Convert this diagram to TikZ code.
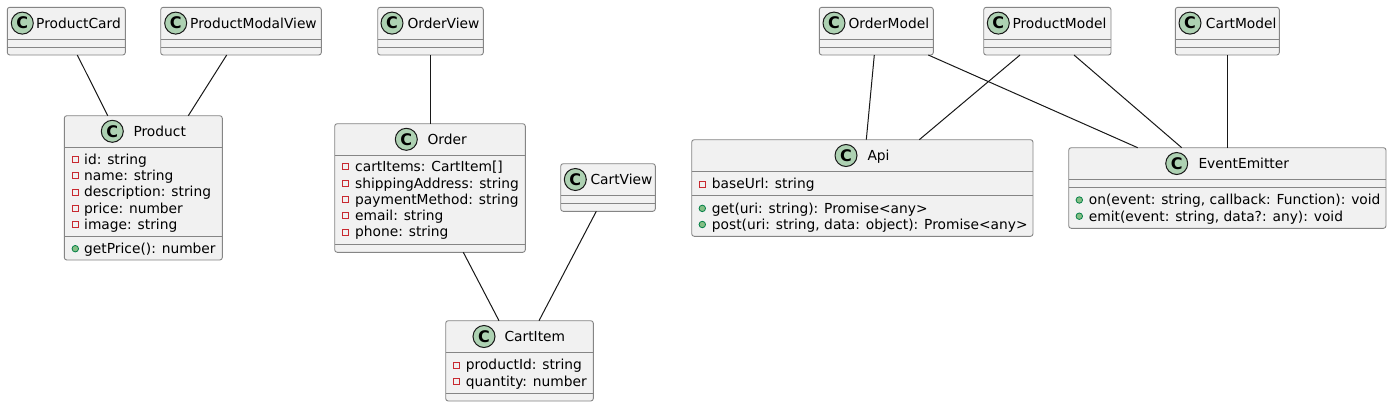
\documentclass[tikz,border=0pt]{standalone}
\usepackage{fontspec}
\setmainfont{DejaVu Sans}
\newfontfamily\iconfamily{DejaVu Sans}
\usetikzlibrary{calc}
\definecolor{cBorder}{HTML}{181818}
\definecolor{cEdge}{HTML}{858585}
\definecolor{cFill}{HTML}{F1F1F1}
\definecolor{cIcon}{HTML}{ADD1B2}
\definecolor{cPriv}{HTML}{C82930}
\definecolor{cPubF}{HTML}{84BE84}
\definecolor{cPubD}{HTML}{038048}
\newcommand\memfont{\fontsize{13.8pt}{16pt}\selectfont}
\newcommand\iconfont{\iconfamily\bfseries\fontsize{16pt}{16pt}\selectfont}
\newcommand\twoseps[3]{%
  \draw[sepl] ($(#1.north west)+(0,#2)$) -- ($(#1.north east)+(0,#2)$);
  \draw[sepl] ($(#1.north west)+(0,#3)$) -- ($(#1.north east)+(0,#3)$);}
\tikzset{
  cls/.style={draw=cEdge, line width=0.9pt, fill=cFill, rounded corners=2.5pt,
    inner sep=0pt, outer sep=0pt, anchor=north west, rectangle},
  sepl/.style={draw=cEdge, line width=0.9pt},
  cicon/.style={circle, draw=cBorder, line width=1pt, fill=cIcon, minimum size=22pt,
    inner sep=0pt, font=\iconfont},
  cname/.style={anchor=base west, inner sep=0pt, font=\memfont},
  mem/.style={anchor=base west, inner sep=0pt, font=\memfont},
  privm/.style={rectangle, draw=cPriv, line width=1pt, minimum size=6pt, inner sep=0pt},
  pubm/.style={circle, draw=cPubD, fill=cPubF, line width=0.8pt, minimum size=6.5pt, inner sep=0pt},
  conn/.style={draw=cBorder, line width=1pt},
}
\begin{document}
\begin{tikzpicture}[x=1pt, y=-1pt]
\useasboundingbox[fill=white] (0,0) rectangle (1392,407);

% ---------- boxes ----------
\node[cls, minimum width=118pt,   minimum height=47.7pt]  (pc)   at (7.3,7.3) {};
\node[cls, minimum width=160.6pt, minimum height=47.7pt]  (pmv)  at (160.7,7.3) {};
\node[cls, minimum width=158pt,   minimum height=144.3pt] (prod) at (64.3,115.7) {};
\node[cls, minimum width=105.6pt, minimum height=47.7pt]  (ov)   at (377.7,7.3) {};
\node[cls, minimum width=190.6pt, minimum height=128.6pt] (ord)  at (334.7,123.7) {};
\node[cls, minimum width=94.6pt,  minimum height=47.6pt]  (cv)   at (560.7,163.7) {};
\node[cls, minimum width=147.6pt, minimum height=80.3pt]  (ci)   at (445.7,320.7) {};
\node[cls, minimum width=114pt,   minimum height=47.7pt]  (om)   at (819.3,7.3) {};
\node[cls, minimum width=127.3pt, minimum height=47.7pt]  (pm)   at (983.7,7.3) {};
\node[cls, minimum width=104pt,   minimum height=47.7pt]  (cm)   at (1175.3,7.3) {};
\node[cls, minimum width=341.3pt, minimum height=96.6pt]  (api)  at (691.7,139.7) {};
\node[cls, minimum width=317.3pt, minimum height=80.6pt]  (ee)   at (1068.7,147.7) {};

% ---------- separators ----------
\twoseps{pc}{32}{40}
\twoseps{pmv}{32}{40}
\twoseps{prod}{31.3}{120.3}
\twoseps{ov}{32}{40}
\twoseps{ord}{31.3}{120.6}
\twoseps{cv}{31.8}{39.8}
\twoseps{ci}{31.6}{72.6}
\twoseps{om}{32}{40}
\twoseps{pm}{32}{40}
\twoseps{cm}{32}{40}
\twoseps{api}{32}{56}
\twoseps{ee}{31.6}{39.6}

% ---------- headers ----------
\node[cicon] (pcI)   at (22.3,23.1) {C};   \node[cname] (pcN)   at (36,28.3) {ProductCard};
\node[cicon] (pmvI)  at (175.7,23.1) {C};  \node[cname] (pmvN)  at (190,28.3) {ProductModalView};
\node[cicon] (prodI) at (112.3,131.3) {C}; \node[cname] (prodN) at (133.3,136.7) {Product};
\node[cicon] (ovI)   at (392,23.1) {C};    \node[cname] (ovN)   at (407.3,28.3) {OrderView};
\node[cicon] (ordI)  at (406.3,139.3) {C}; \node[cname] (ordN)  at (427.3,144.7) {Order};
\node[cicon] (cvI)   at (575.3,179.5) {C}; \node[cname] (cvN)   at (590.3,184.7) {CartView};
\node[cicon] (ciI)   at (484,336.5) {C};   \node[cname] (ciN)   at (504.3,341.7) {CartItem};
\node[cicon] (omI)   at (834,23.1) {C};    \node[cname] (omN)   at (848.3,28.3) {OrderModel};
\node[cicon] (pmI)   at (998.3,23.1) {C};  \node[cname] (pmN)   at (1012.3,28.3) {ProductModel};
\node[cicon] (cmI)   at (1190,23.1) {C};   \node[cname] (cmN)   at (1205.7,28.3) {CartModel};
\node[cicon] (apiI)  at (846,155.5) {C};   \node[cname] (apiN)  at (867.3,160.7) {Api};
\node[cicon] (eeI)   at (1176.7,163.5) {C};\node[cname] (eeN)   at (1198.3,168.7) {EventEmitter};

% ---------- Product members ----------
\node[privm] (prodM1) at (75.3,159.5) {}; \node[mem] (prodT1) at (84,164.3) {id: string};
\node[privm] (prodM2) at (75.3,175.8) {}; \node[mem] (prodT2) at (84,180.6) {name: string};
\node[privm] (prodM3) at (75.3,192.1) {}; \node[mem] (prodT3) at (84,196.9) {description: string};
\node[privm] (prodM4) at (75.3,208.4) {}; \node[mem] (prodT4) at (84,213.2) {price: number};
\node[privm] (prodM5) at (75.3,224.7) {}; \node[mem] (prodT5) at (84,229.5) {image: string};
\node[pubm]  (prodM6) at (75.3,248.7) {}; \node[mem] (prodT6) at (84,253.5) {getPrice(): number};

% ---------- Order members ----------
\node[privm] (ordM1) at (345.3,166.9) {}; \node[mem] (ordT1) at (355,171.7) {cartItems: CartItem[]};
\node[privm] (ordM2) at (345.3,183.2) {}; \node[mem] (ordT2) at (355,188) {shippingAddress: string};
\node[privm] (ordM3) at (345.3,199.5) {}; \node[mem] (ordT3) at (355,204.3) {paymentMethod: string};
\node[privm] (ordM4) at (345.3,215.8) {}; \node[mem] (ordT4) at (355,220.6) {email: string};
\node[privm] (ordM5) at (345.3,232.1) {}; \node[mem] (ordT5) at (355,236.9) {phone: string};

% ---------- CartItem members ----------
\node[privm] (ciM1) at (456,365) {};   \node[mem] (ciT1) at (465.7,369.8) {productId: string};
\node[privm] (ciM2) at (456,381.3) {}; \node[mem] (ciT2) at (465.7,386.1) {quantity: number};

% ---------- Api members ----------
\node[privm] (apiM1) at (702.3,184) {};   \node[mem] (apiT1) at (711.7,188.8) {baseUrl: string};
\node[pubm]  (apiM2) at (702.3,208.4) {}; \node[mem] (apiT2) at (711.7,213.2) {get(uri: string): Promise<any>};
\node[pubm]  (apiM3) at (702.3,224.5) {}; \node[mem] (apiT3) at (711.7,229.3) {post(uri: string, data: object): Promise<any>};

% ---------- EventEmitter members ----------
\node[pubm] (eeM1) at (1079.3,200) {};   \node[mem] (eeT1) at (1088.7,204.8) {on(event: string, callback: Function): void};
\node[pubm] (eeM2) at (1079.3,216.2) {}; \node[mem] (eeT2) at (1088.7,221) {emit(event: string, data?: any): void};

% ---------- connectors ----------
\draw[conn] ([xshift=70pt]pc.south west)    -- ([xshift=43.4pt]prod.north west);
\draw[conn] ([xshift=66pt]pmv.south west)   -- ([xshift=124pt]prod.north west);
\draw[conn] ([xshift=52.6pt]ov.south west)  -- ([xshift=95.6pt]ord.north west);
\draw[conn] ([xshift=128.6pt]ord.south west)-- ([xshift=53.3pt]ci.north west);
\draw[conn] ([xshift=35.6pt]cv.south west)  -- ([xshift=93.3pt]ci.north west);
\draw[conn] ([xshift=55pt]om.south west)    -- ([xshift=174.6pt]api.north west);
\draw[conn] ([xshift=109pt]om.south west)   -- ([xshift=69pt]ee.north west);
\draw[conn] ([xshift=36.3pt]pm.south west)  -- ([xshift=227.6pt]api.north west);
\draw[conn] ([xshift=90.3pt]pm.south west)  -- ([xshift=113pt]ee.north west);
\draw[conn] ([xshift=52pt]cm.south west)    -- ([xshift=158.6pt]ee.north west);
\end{tikzpicture}
\end{document}
